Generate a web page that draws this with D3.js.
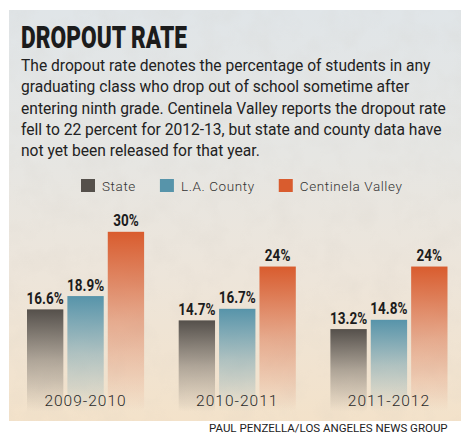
<!DOCTYPE html>
<html>
<head>
<meta charset="utf-8">
<script src="https://cdn.jsdelivr.net/npm/d3@7"></script>
<style>
  html, body { margin: 0; padding: 0; background: #fff; }
  svg { display: block; }
</style>
</head>
<body>
<div id="chart"></div>
<script>
// Dropout rate — grouped bars, three school years
const categories = ['2009-2010', '2010-2011', '2011-2012'];
const seriesNames = ['State', 'L.A. County', 'Centinela Valley'];
const stateValues = [16.6, 14.7, 13.2];
const countyValues = [18.9, 16.7, 14.8];
const centinelaValues = [30, 24, 24];
const valueLabels = [
    ['16.6%', '14.7%', '13.2%'],
    ['18.9%', '16.7%', '14.8%'],
    ['30%', '24%', '24%']
];
const introLines = [
    'The dropout rate denotes the percentage of students in any',
    'graduating class who drop out of school sometime after',
    'entering ninth grade. Centinela Valley reports the dropout rate',
    'fell to 22 percent for 2012-13, but state and county data have',
    'not yet been released for that year.'
];

const seriesValues = [stateValues, countyValues, centinelaValues];
const colors = ['#55504b', '#5794aa', '#d95c2e'];

const W = 461, H = 433;
const svg = d3.select('#chart').append('svg')
    .attr('width', W).attr('height', H);

const defs = svg.append('defs');

// Panel background: cool grey at the top to warm beige at the bottom
const bg = defs.append('linearGradient').attr('id', 'bg')
    .attr('x1', 0).attr('y1', 0).attr('x2', 0).attr('y2', 1);
bg.append('stop').attr('offset', '0%').attr('stop-color', '#e0e5e8');
bg.append('stop').attr('offset', '35%').attr('stop-color', '#e6e6e3');
bg.append('stop').attr('offset', '65%').attr('stop-color', '#ede5da');
bg.append('stop').attr('offset', '100%').attr('stop-color', '#f3e2ca');

const grain = defs.append('filter').attr('id', 'grain')
    .attr('x', 0).attr('y', 0).attr('width', '100%').attr('height', '100%');
grain.append('feTurbulence').attr('type', 'fractalNoise')
    .attr('baseFrequency', '0.04').attr('numOctaves', 3).attr('seed', 4);
grain.append('feColorMatrix').attr('type', 'matrix')
    .attr('values', '0 0 0 0 0.6  0 0 0 0 0.56  0 0 0 0 0.5  0 0 0 -1.3 0.8');

svg.append('rect').attr('x', 9).attr('y', 10).attr('width', 452).attr('height', 411)
    .attr('fill', 'url(#bg)');
svg.append('rect').attr('x', 9).attr('y', 10).attr('width', 452).attr('height', 411)
    .attr('filter', 'url(#grain)').attr('opacity', 0.16);

// per-series fading gradients
colors.forEach((c, i) => {
    const g = defs.append('linearGradient').attr('id', 'fade' + i)
        .attr('x1', 0).attr('y1', 0).attr('x2', 0).attr('y2', 1);
    g.append('stop').attr('offset', '0%').attr('stop-color', c).attr('stop-opacity', 1);
    g.append('stop').attr('offset', '50%').attr('stop-color', c).attr('stop-opacity', 0.42);
    g.append('stop').attr('offset', '100%').attr('stop-color', c).attr('stop-opacity', 0);
});

// Title + intro
svg.append('text')
    .attr('x', 21).attr('y', 48)
    .attr('font-family', 'Roboto, sans-serif').attr('font-weight', 900)
    .attr('font-size', 31).attr('fill', '#1c1c1c')
    .attr('textLength', 166).attr('lengthAdjust', 'spacingAndGlyphs')
    .text('DROPOUT RATE');

svg.append('g').selectAll('text').data(introLines).enter().append('text')
    .attr('x', 21).attr('y', (d, i) => 71 + i * 21.3)
    .attr('font-family', 'Roboto, sans-serif').attr('font-size', 15.6)
    .attr('fill', '#222')
    .text(d => d);

// Legend
const legend = svg.append('g').attr('transform', 'translate(81,179)');
let lx = 0;
seriesNames.forEach((name, i) => {
    legend.append('rect').attr('x', lx).attr('y', 0).attr('width', 14).attr('height', 13)
        .attr('fill', colors[i]);
    const t = legend.append('text').attr('x', lx + 21).attr('y', 11.5)
        .attr('font-family', 'Roboto, sans-serif').attr('font-weight', 300)
        .attr('font-size', 13.5).attr('letter-spacing', 0.6).attr('fill', '#333')
        .text(name);
    lx += 21 + t.node().getComputedTextLength() + 24;
});

// Scales
const x0 = d3.scaleBand().domain(categories).range([27, 447.5]).paddingInner(0.228);
const x1 = d3.scaleBand().domain(seriesNames).range([0, x0.bandwidth()]).paddingInner(0.1);
const y = d3.scaleLinear().domain([0, 30]).range([405.5, 231.8]);

const groups = svg.append('g').selectAll('g').data(categories).enter().append('g')
    .attr('transform', d => `translate(${x0(d)},0)`);

seriesNames.forEach((name, si) => {
    groups.append('rect')
        .attr('x', x1(name))
        .attr('y', (d, ci) => y(seriesValues[si][ci]))
        .attr('width', x1.bandwidth())
        .attr('height', (d, ci) => y(0) + 6 - y(seriesValues[si][ci]))
        .attr('fill', `url(#fade${si})`);
    groups.append('text')
        .attr('x', x1(name) + x1.bandwidth() / 2)
        .attr('y', (d, ci) => y(seriesValues[si][ci]) - 5.5)
        .attr('text-anchor', 'middle')
        .attr('font-family', 'Roboto, sans-serif').attr('font-weight', 700)
        .attr('font-size', 16.5).attr('fill', '#1c1c1c')
        .attr('transform', () => {
            const cx = x1(name) + x1.bandwidth() / 2;
            return `translate(${cx},0) scale(0.82,1) translate(${-cx},0)`;
        })
        .text((d, ci) => valueLabels[si][ci]);
});

// Category labels
groups.append('text')
    .attr('x', x0.bandwidth() / 2).attr('y', 405.5)
    .attr('text-anchor', 'middle')
    .attr('font-family', 'Roboto, sans-serif').attr('font-weight', 300)
    .attr('font-size', 15.5).attr('letter-spacing', 1).attr('fill', '#2b2b2b')
    .text(d => d);

// Credit
svg.append('text')
    .attr('x', 209).attr('y', 431.5)
    .attr('font-family', 'Roboto, sans-serif').attr('font-size', 11.5)
    .attr('fill', '#222')
    .text('PAUL PENZELLA/LOS ANGELES NEWS GROUP');
</script>
</body>
</html>
